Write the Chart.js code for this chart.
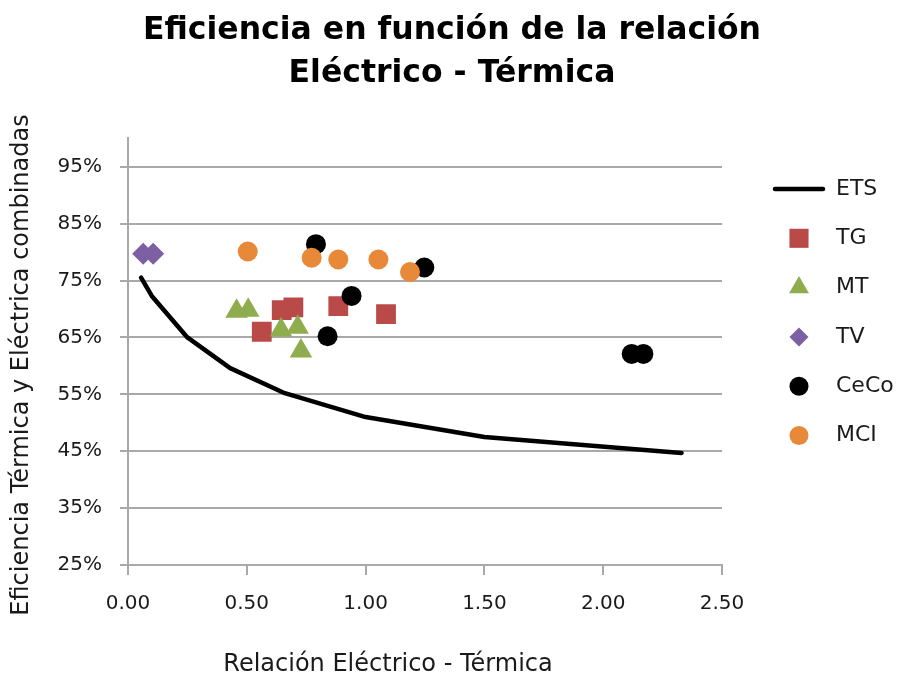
<!DOCTYPE html>
<html><head><meta charset="utf-8">
<script src="https://cdn.jsdelivr.net/npm/chart.js@4.4.1/dist/chart.umd.min.js"></script>
<style>html,body{margin:0;padding:0;background:#fff;}canvas{display:block;}</style>
</head><body>
<canvas id="c" width="904" height="680"></canvas>
<script>
// ---- data ----
const seriesNames = ['ETS', 'TG', 'MT', 'TV', 'CeCo', 'MCI'];
const etsX = [0.055, 0.10, 0.25, 0.43, 0.66, 1.00, 1.50, 2.33];
const etsY = [0.755, 0.723, 0.650, 0.596, 0.552, 0.510, 0.475, 0.447];
const tgX = [0.563, 0.647, 0.696, 0.885, 1.086];
const tgY = [0.660, 0.698, 0.703, 0.705, 0.691];
const mtX = [0.457, 0.506, 0.644, 0.714, 0.728];
const mtY = [0.696, 0.698, 0.663, 0.668, 0.626];
const tvX = [0.064, 0.106];
const tvY = [0.797, 0.797];
const cecoX = [0.791, 0.941, 0.840, 1.247, 2.120, 2.169];
const cecoY = [0.814, 0.723, 0.652, 0.773, 0.621, 0.621];
const mciX = [0.504, 0.773, 0.885, 1.054, 1.187];
const mciY = [0.801, 0.790, 0.787, 0.787, 0.765];
const xTicks = [0.0, 0.5, 1.0, 1.5, 2.0, 2.5];
const yTicks = [0.25, 0.35, 0.45, 0.55, 0.65, 0.75, 0.85, 0.95];
const titleLines = ['Eficiencia en función de la relación', 'Eléctrico - Térmica'];
const xTitle = 'Relación Eléctrico - Térmica';
const yTitle = 'Eficiencia Térmica y Eléctrica combinadas';

const pts = (xs, ys) => xs.map((x, i) => ({x: x, y: ys[i]}));

const FONT = '"DejaVu Sans", Verdana, sans-serif';
const GRID = '#a9a9a9';
const TXT = '#1a1a1a';

const styles = {
  TG:   {color: '#B94A48', pointStyle: 'rect',     radius: 14, legendRadius: 13.5},
  MT:   {color: '#8FAD4E', pointStyle: 'triangle', radius: 13, legendRadius: 11.5},
  TV:   {color: '#7D5FA3', pointStyle: 'rectRot',  radius: 11, legendRadius: 9.5},
  CeCo: {color: '#000000', pointStyle: 'circle',   radius: 10, legendRadius: 9.5},
  MCI:  {color: '#E8893A', pointStyle: 'circle',   radius: 10, legendRadius: 9.5}
};
const seriesData = {TG: pts(tgX, tgY), MT: pts(mtX, mtY), TV: pts(tvX, tvY), CeCo: pts(cecoX, cecoY), MCI: pts(mciX, mciY)};

const datasets = [{
  type: 'line', label: seriesNames[0], data: pts(etsX, etsY),
  borderColor: '#000', backgroundColor: '#000', borderWidth: 4.5, pointRadius: 0, pointHoverRadius: 0,
  tension: 0, showLine: true, fill: false, borderCapStyle: 'round', borderJoinStyle: 'round', order: 10
}];
seriesNames.slice(1).forEach((name, k) => {
  const s = styles[name];
  datasets.push({
    type: 'scatter', label: name, data: seriesData[name],
    backgroundColor: s.color, borderColor: s.color, borderWidth: 0,
    pointStyle: s.pointStyle, pointRadius: s.radius, pointHoverRadius: s.radius,
    legendRadius: s.legendRadius, order: 9 - k
  });
});

const sideLegend = {
  id: 'sideLegend',
  afterDraw(chart) {
    const ctx = chart.ctx;
    ctx.save();
    chart.data.datasets.forEach((ds, i) => {
      const cy = 189 + i * 49.3;
      const cx = 799;
      if (ds.showLine) {
        ctx.strokeStyle = ds.borderColor; ctx.lineWidth = 4.5; ctx.lineCap = 'round';
        ctx.beginPath(); ctx.moveTo(cx - 24, cy); ctx.lineTo(cx + 24, cy); ctx.stroke();
      } else {
        ctx.fillStyle = ds.backgroundColor; ctx.strokeStyle = ds.borderColor;
        Chart.helpers.drawPoint(ctx, {pointStyle: ds.pointStyle, radius: ds.legendRadius, borderWidth: 0, rotation: 0}, cx, cy);
      }
      ctx.fillStyle = TXT;
      ctx.font = '22px ' + FONT;
      ctx.textAlign = 'left'; ctx.textBaseline = 'middle';
      ctx.fillText(ds.label, 836, cy);
    });
    ctx.restore();
  }
};

const axisTitles = {
  id: 'axisTitles',
  afterDraw(chart) {
    const ctx = chart.ctx;
    ctx.save();
    ctx.fillStyle = TXT; ctx.font = '24px ' + FONT;
    ctx.textAlign = 'center'; ctx.textBaseline = 'middle';
    ctx.fillText(xTitle, 388, 665);
    ctx.translate(22, 365); ctx.rotate(-Math.PI / 2);
    ctx.fillText(yTitle, 0, 0);
    ctx.restore();
  }
};

new Chart(document.getElementById('c'), {
  data: {datasets: datasets},
  options: {
    responsive: false, animation: false, devicePixelRatio: 1,
    layout: {padding: 0},
    plugins: {
      legend: {display: false},
      tooltip: {enabled: false},
      title: {
        display: true, text: titleLines, color: '#000',
        font: {family: FONT, size: 31.5, weight: 'bold', lineHeight: 1.375},
        padding: {top: 9.2, bottom: 42.5}
      }
    },
    scales: {
      x: {
        type: 'linear', min: 0, max: 2.5,
        afterBuildTicks: (s) => { s.ticks = xTicks.map(v => ({value: v})); },
        afterFit: (s) => { s.height = 115; },
        ticks: {callback: (v) => Number(v).toFixed(2), font: {family: FONT, size: 20}, color: TXT, padding: 17, maxRotation: 0, autoSkip: false},
        grid: {drawOnChartArea: false, drawTicks: true, tickLength: 10, color: GRID, lineWidth: 2},
        border: {display: true, color: GRID, width: 2}
      },
      y: {
        type: 'linear', position: 'left', min: 0.25, max: 1.0,
        afterBuildTicks: (s) => { s.ticks = yTicks.map(v => ({value: v})); },
        afterFit: (s) => { s.width = 128; },
        ticks: {callback: (v) => Math.round(v * 100) + '%', font: {family: FONT, size: 20}, color: TXT, padding: 18, autoSkip: false},
        grid: {drawOnChartArea: true, drawTicks: true, tickLength: 8, color: GRID, lineWidth: 2},
        border: {display: true, color: GRID, width: 2}
      },
      legendSpace: {
        type: 'linear', axis: 'y', position: 'right', display: true,
        afterFit: (s) => { s.width = 182; },
        ticks: {display: false},
        grid: {display: false, drawTicks: false},
        border: {display: false}
      }
    }
  },
  plugins: [sideLegend, axisTitles]
});
</script>
</body></html>
